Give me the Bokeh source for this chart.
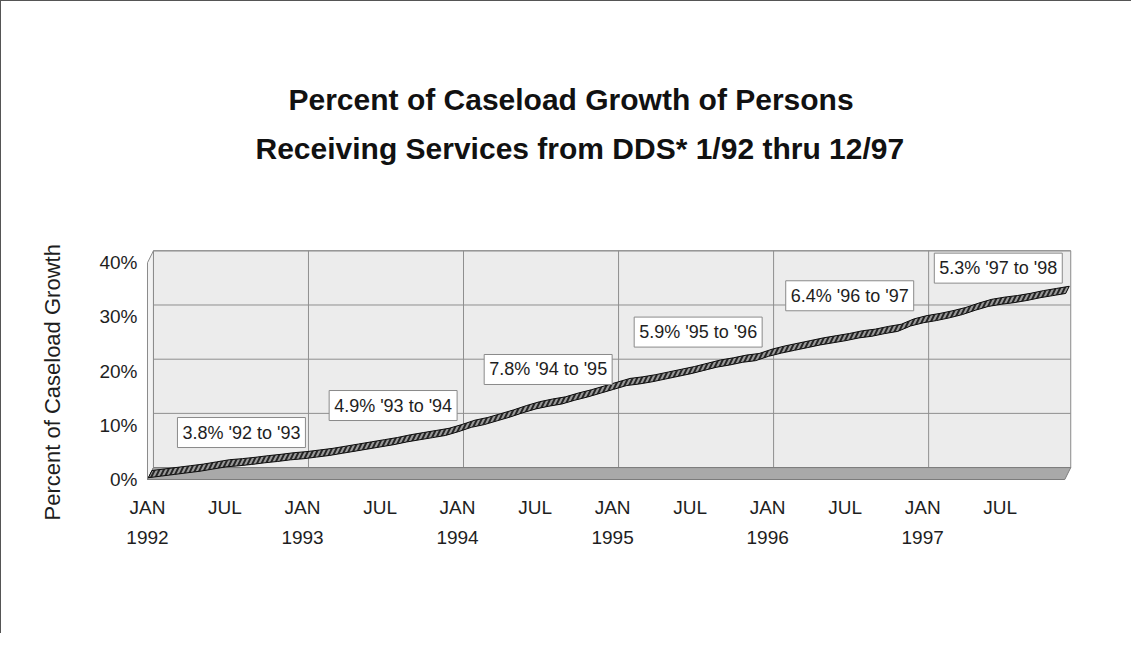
import numpy as np
from bokeh.plotting import figure
from bokeh.models import Range1d, FixedTicker, LinearAxis, Label, PrintfTickFormatter, Title
from bokeh.embed import file_html
from bokeh.resources import INLINE

# ---- data ----
months = list(range(72))  # 0 = JAN 1992 ... 71 = DEC 1997
growth = [
    0.0, 0.3, 0.6, 0.9, 1.2, 1.6, 2.0, 2.2, 2.45, 2.75, 3.0, 3.3,        # 1992
    3.5, 3.8, 4.1, 4.5, 4.9, 5.3, 5.7, 6.1, 6.6, 7.0, 7.4, 7.8,          # 1993
    8.5, 9.3, 9.8, 10.5, 11.2, 12.0, 12.7, 13.2, 13.6, 14.3, 14.9, 15.6, # 1994
    16.3, 17.0, 17.3, 17.7, 18.2, 18.7, 19.2, 19.8, 20.4, 20.8, 21.3, 21.6,  # 1995
    22.4, 23.0, 23.5, 24.0, 24.5, 24.9, 25.3, 25.8, 26.1, 26.6, 27.0, 28.0,  # 1996
    28.6, 29.0, 29.5, 30.1, 30.9, 31.6, 32.0, 32.3, 32.7, 33.2, 33.6, 34.0,  # 1997
]
tick_months = [0, 6, 12, 18, 24, 30, 36, 42, 48, 54, 60, 66]
tick_names = ["JAN", "JUL"] * 6
year_months = [0, 12, 24, 36, 48, 60]
year_names = ["1992", "1993", "1994", "1995", "1996", "1997"]
y_ticks = [0, 10, 20, 30, 40]
note_texts = ["3.8% '92 to '93", "4.9% '93 to '94", "7.8% '94 to '95",
              "5.9% '95 to '96", "6.4% '96 to '97", "5.3% '97 to '98"]
note_x = [2.32, 14.06, 26.06, 37.67, 49.4, 60.9]
note_y = [8.67, 13.65, 20.3, 27.2, 33.9, 39.0]
title_lines = ["Percent of Caseload Growth of Persons",
               "Receiving Services from DDS* 1/92 thru 12/97"]
y_title = "Percent of Caseload Growth"

# ---- style constants ----
FONT = "Liberation Sans"
TXT = "#1e1e1e"
DX, DY = 0.46, 2.2          # 3-D depth offset (data units)
FRONT, BACK = 0.15, 0.75    # ribbon depth fractions

p = figure(width=1131, height=633,
           x_range=Range1d(-0.464, 72.37), y_range=Range1d(-1.66, 44.1),
           x_axis_type=None, y_axis_type=None,
           output_backend="svg", toolbar_location=None,
           min_border_left=140, min_border_right=50,
           min_border_top=239, min_border_bottom=146)
p.outline_line_color = None
p.background_fill_color = "white"
p.border_fill_color = "white"
p.styles = {"border-top": "1px solid #555", "border-left": "1px solid #555"}

x_first, x_last = months[0], months[-1]
y_top = y_ticks[-1]

# back wall
p.quad(left=x_first + DX, right=x_last + DX, bottom=DY, top=y_top + DY,
       fill_color="#ececec", line_color="#8a8a8a", line_width=1)
# back wall grid
p.segment(x0=[x_first + DX] * len(y_ticks), x1=[x_last + DX] * len(y_ticks),
          y0=[t + DY for t in y_ticks], y1=[t + DY for t in y_ticks],
          line_color="#8f8f8f", line_width=1)
p.segment(x0=[m + DX for m in year_months[1:]], x1=[m + DX for m in year_months[1:]],
          y0=[DY] * 5, y1=[y_top + DY] * 5, line_color="#8f8f8f", line_width=1)
# left wall
p.patch([x_first, x_first + DX, x_first + DX, x_first], [0, DY, y_top + DY, y_top],
        fill_color="#f3f3f3", line_color="#8a8a8a", line_width=1)
# floor
p.patch([x_first, x_last, x_last + DX, x_first + DX], [0, 0, DY, DY],
        fill_color="#a9a9a9", line_color="#7c7c7c", line_width=1)

# ribbon (3-D line)
xs = [m + BACK * DX for m in months] + [m + FRONT * DX for m in months[::-1]]
ys = [v + BACK * DY for v in growth] + [v + FRONT * DY for v in growth[::-1]]
p.patch(xs, ys, fill_color="#262626", line_color="#0d0d0d", line_width=1,
        hatch_pattern="/", hatch_color="#9a9a9a", hatch_weight=2, hatch_scale=9)

# axes
yax = LinearAxis(ticker=FixedTicker(ticks=y_ticks),
                 formatter=PrintfTickFormatter(format="%d%%"))
xax = LinearAxis(ticker=FixedTicker(ticks=tick_months),
                 major_label_overrides={m: n for m, n in zip(tick_months, tick_names)})
yrax = LinearAxis(ticker=FixedTicker(ticks=year_months),
                  major_label_overrides={m: n for m, n in zip(year_months, year_names)})
for ax in (yax, xax, yrax):
    ax.axis_line_color = None
    ax.major_tick_line_color = None
    ax.minor_tick_line_color = None
    ax.major_tick_in = 0
    ax.major_tick_out = 0
    ax.minor_tick_in = 0
    ax.minor_tick_out = 0
    ax.major_label_text_font = FONT
    ax.major_label_text_font_size = "19px"
    ax.major_label_text_color = TXT
yax.major_label_standoff = 4
xax.major_label_standoff = 8
yrax.major_label_standoff = 10
p.add_layout(yax, "left")
p.add_layout(xax, "below")
p.add_layout(yrax, "below")

# notes
for t, x, y in zip(note_texts, note_x, note_y):
    p.add_layout(Label(x=x, y=y, text=t, text_font=FONT, text_font_size="18px",
                       text_color=TXT, text_baseline="middle", text_align="left",
                       padding=5, background_fill_color="white",
                       border_line_color="#8a8a8a", border_line_width=1))

# titles
spacer = Title(text=" ", text_font_size="1px", standoff=59)
t2 = Title(text=title_lines[1], align="left", offset=114, standoff=28,
           text_font=FONT, text_font_size="30px", text_font_style="bold",
           text_color="#111111")
t1 = Title(text=title_lines[0], align="left", offset=147, standoff=0,
           text_font=FONT, text_font_size="30px", text_font_style="bold",
           text_color="#111111")
p.add_layout(spacer, "above")
p.add_layout(t2, "above")
p.add_layout(t1, "above")
yt = Title(text=y_title, align="left", offset=-32, standoff=64,
           text_font=FONT, text_font_size="22px", text_font_style="normal",
           text_color=TXT)
p.add_layout(yt, "left")

open("out.html", "w").write(file_html(p, INLINE))
